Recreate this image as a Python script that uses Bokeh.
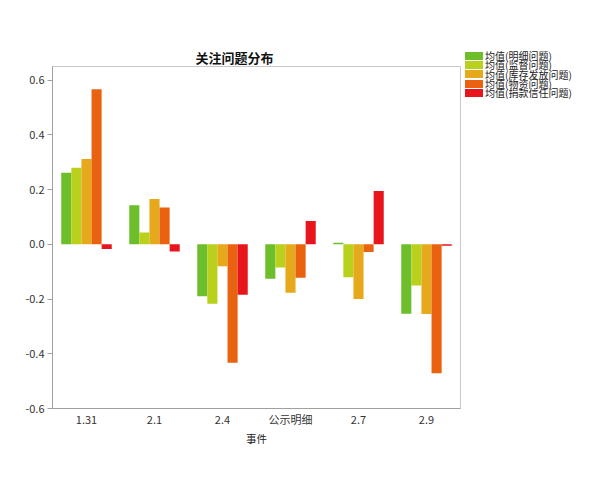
from bokeh.plotting import figure
from bokeh.layouts import row
from bokeh.models import ColumnDataSource, FactorRange, FixedTicker, NumeralTickFormatter, Div
from bokeh.transform import dodge
from bokeh.embed import file_html
from bokeh.resources import INLINE

# ---- data ----
categories = ["1.31", "2.1", "2.4", "公示明细", "2.7", "2.9"]
mingxi = [0.262, 0.143, -0.190, -0.126, 0.006, -0.254]      # 均值(明细问题)
jiandu = [0.280, 0.043, -0.217, -0.085, -0.120, -0.150]     # 均值(监督问题)
kucun = [0.312, 0.166, -0.080, -0.177, -0.200, -0.255]      # 均值(库存发放问题)
wuzi = [0.567, 0.135, -0.433, -0.122, -0.028, -0.471]       # 均值(物资问题)
juankuan = [-0.017, -0.026, -0.184, 0.085, 0.195, -0.005]   # 均值(捐款信任问题)
series_names = ["均值(明细问题)", "均值(监督问题)", "均值(库存发放问题)", "均值(物资问题)", "均值(捐款信任问题)"]
y_ticks = [-0.6, -0.4, -0.2, 0.0, 0.2, 0.4, 0.6]

series_keys = ["mingxi", "jiandu", "kucun", "wuzi", "juankuan"]
colors = ["#6cbe2a", "#b9d01d", "#e5a91b", "#e8620f", "#e8161c"]

source = ColumnDataSource(data=dict(cat=categories, mingxi=mingxi, jiandu=jiandu,
                                    kucun=kucun, wuzi=wuzi, juankuan=juankuan))

FONT = "Noto Sans CJK SC"

p = figure(x_range=FactorRange(factors=categories, range_padding=0),
           y_range=(-0.6, 0.65),
           width=464, height=472,
           min_border_left=52, min_border_right=4,
           min_border_top=66, min_border_bottom=64,
           output_backend="svg", toolbar_location=None,
           title="关注问题分布")

p.title.text_font = FONT
p.title.text_font_size = "13px"
p.title.text_font_style = "bold"
p.title.text_color = "#111111"
p.title.align = "left"
p.title.offset = 143
p.title.standoff = 0

bw = 0.1485
for i, (k, c) in enumerate(zip(series_keys, colors)):
    p.vbar(x=dodge("cat", (i - 2) * bw, range=p.x_range), top=k, bottom=0,
           width=bw, source=source, fill_color=c, line_color=None)

p.xgrid.visible = False
p.ygrid.visible = False
p.outline_line_color = "#c8c8c8"
p.outline_line_width = 1
p.background_fill_color = "white"
p.border_fill_color = "white"

# y axis
p.yaxis.ticker = FixedTicker(ticks=y_ticks)
p.yaxis.formatter = NumeralTickFormatter(format="0.0")
p.yaxis.minor_tick_line_color = None
p.yaxis.major_tick_out = 5
p.yaxis.major_tick_in = 0
p.yaxis.major_tick_line_color = "#a0a0a0"
p.yaxis.axis_line_color = "#a0a0a0"
p.yaxis.major_label_text_font = FONT
p.yaxis.major_label_text_font_size = "11px"
p.yaxis.major_label_text_color = "#333333"
p.yaxis.major_label_standoff = 3

# x axis
p.xaxis.axis_label = "事件"
p.xaxis.axis_label_text_font = FONT
p.xaxis.axis_label_text_font_size = "10.5px"
p.xaxis.axis_label_text_font_style = "normal"
p.xaxis.axis_label_text_color = "#222222"
p.xaxis.axis_label_standoff = 1
p.xaxis.major_tick_out = 0
p.xaxis.major_tick_in = 0
p.xaxis.major_tick_line_color = None
p.xaxis.minor_tick_line_color = None
p.xaxis.axis_line_color = "#a0a0a0"
p.xaxis.major_label_text_font = FONT
p.xaxis.major_label_text_font_size = "11px"
p.xaxis.major_label_text_color = "#333333"
p.xaxis.major_label_standoff = 2

# ---- legend (compact HTML legend to the right of the plot) ----
rows_html = "".join(
    '<div style="height:9.3px;display:flex;align-items:center;white-space:nowrap;overflow:visible;">'
    f'<span style="display:inline-block;width:18px;height:8px;background:{c};'
    'margin-left:1px;margin-right:2px;flex:none;"></span>'
    '<span style="display:inline-block;height:9px;line-height:9px;overflow:visible;">'
    f'{n}</span></div>'
    for n, c in zip(series_names, colors)
)
legend_html = (
    f'<div style="padding-top:51px;font-family:\'{FONT}\';font-size:10px;'
    f'color:#222222;">{rows_html}</div>'
)
legend_div = Div(text=legend_html, width=128, height=472, margin=0)

layout = row(p, legend_div)
open("out.html", "w").write(file_html(layout, INLINE))
